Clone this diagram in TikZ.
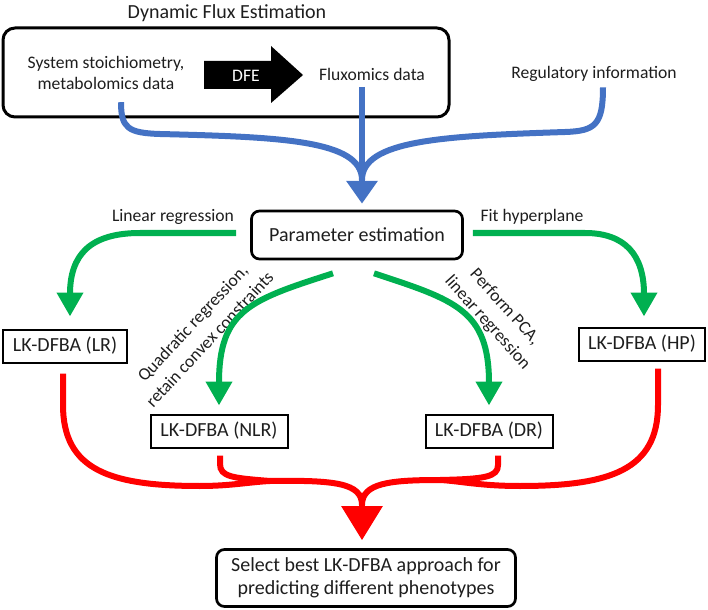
\documentclass[tikz,border=0pt]{standalone}
\usepackage{fontspec}
\setmainfont{Carlito}
\usepackage{xcolor}
\usetikzlibrary{arrows.meta}
\definecolor{flowblue}{HTML}{4472C4}
\definecolor{flowgreen}{HTML}{00B050}
\definecolor{flowred}{HTML}{FF0000}
\definecolor{inkgray}{HTML}{1E1E1E}

\begin{document}
\begin{tikzpicture}[
  x=0.75pt, y=-0.75pt,
  every node/.style={text=inkgray},
  txt/.style={font=\fontsize{15}{17.25}\selectfont, align=center},
  lbl/.style={font=\fontsize{13.2}{15.5}\selectfont, align=center},
  tilt/.style={font=\fontsize{13.2}{17.5}\selectfont, align=center},
  box/.style={txt, draw=black, line width=1.5pt, minimum height=24.75pt},
  rbox/.style={txt, draw=black, line width=2pt, rounded corners=6pt},
  bline/.style={draw=flowblue, line width=4.5pt},
  barr/.style={bline, -{Triangle[length=17pt,width=22.5pt]}},
  garr/.style={draw=flowgreen, line width=4.5pt, -{Triangle[length=18pt,width=19pt]}},
  rline/.style={draw=flowred, line width=4.5pt},
  rarr/.style={rline, -{Triangle[length=25.5pt,width=30pt]}}
]
\useasboundingbox (0,0) rectangle (708,610);

\node[rbox, line width=2.25pt, rounded corners=9pt, minimum width=334.5pt, minimum height=66.75pt] (dfebox) at (226,72.5) {};
\node[txt] (title) at (227,13) {Dynamic Flux Estimation};
\node[lbl] (sys) at (106,73) {System stoichiometry,\\metabolomics data};
\fill[black] (204,61) -- (271,61) -- (271,46) -- (303,75) -- (271,103) -- (271,89) -- (204,89) -- cycle;
\node[lbl, text=white] (dfe) at (246,76) {DFE};
\node[lbl] (flux) at (372,74) {Fluxomics data};
\node[lbl] (reg) at (594,74) {Regulatory information};

\node[rbox, minimum width=158.25pt, minimum height=36pt] (param) at (357,235) {Parameter estimation};
\node[lbl] (linreg) at (173,217) {Linear regression};
\node[lbl] (fithyp) at (532,217) {Fit hyperplane};
\node[tilt, rotate=47] (quadlbl) at (201,331) {Quadratic regression,\\retain convex constraints};
\node[tilt, rotate=-48] (pcalbl) at (496,315) {Perform PCA,\\linear regression};

\node[box, minimum width=93pt] (lr) at (65,346) {LK-DFBA (LR)};
\node[box, minimum width=94.5pt] (hp) at (642,344) {LK-DFBA (HP)};
\node[box, minimum width=102.75pt] (nlr) at (219,431) {LK-DFBA (NLR)};
\node[box, minimum width=95.25pt] (dr) at (489,431) {LK-DFBA (DR)};
\node[rbox, minimum width=224.25pt, minimum height=42.75pt] (final) at (366,578) {Select best LK-DFBA approach for\\predicting different phenotypes};

\coordinate (bmerge) at (362,180);
\coordinate (rjl) at (270,481);
\coordinate (rjr) at (440,480);
\coordinate (rmerge) at (362,505);

\draw[bline] ([shift={(15,8)}]sys.south) .. controls (121,128) and (128,133) .. (160,134) .. controls (280,137) and (362,140) .. (bmerge);
\draw[bline] ([shift={(9,1)}]reg.south) .. controls (603,125) and (595,131) .. (565,132) .. controls (444,136) and (362,140) .. (bmerge);
\draw[barr] ([shift={(-10,2)}]flux.south) -- ([shift={(5,-6)}]param.north);

\draw[garr] ([shift={(-14,-2)}]param.west) -- (140,233) .. controls (90,233) and (70,255) .. ([shift={(5,-12)}]lr.north);
\draw[garr] ([shift={(9,-2)}]param.east) -- (585,233) .. controls (625,233) and (644,255) .. ([shift={(2,-10)}]hp.north);
\draw[garr] ([shift={(-24,13)}]param.south) .. controls (250,300) and (219,310) .. ([shift={(0,-8)}]nlr.north);
\draw[garr] ([shift={(17,13)}]param.south) .. controls (455,300) and (489,310) .. ([shift={(0,-8)}]dr.north);

\draw[rline] ([shift={(-2,10)}]lr.south) -- (63,405) .. controls (63,470) and (110,486) .. (200,486) .. controls (230,486) and (250,482) .. (rjl) .. controls (335,480) and (362,483) .. (rmerge);
\draw[rline] ([shift={(1,7)}]nlr.south) -- (220,464) .. controls (220,477) and (233,478) .. (rjl);
\draw[rline] ([shift={(9,7)}]dr.south) -- (498,465) .. controls (498,477) and (485,479) .. (rjr);
\draw[rline] ([shift={(16,7)}]hp.south) -- (658,405) .. controls (658,470) and (610,486) .. (520,486) .. controls (480,486) and (460,481) .. (rjr) .. controls (390,480) and (362,483) .. (rmerge);
\draw[rarr] (rmerge) -- ([shift={(-4,-8)}]final.north);
\end{tikzpicture}
\end{document}
